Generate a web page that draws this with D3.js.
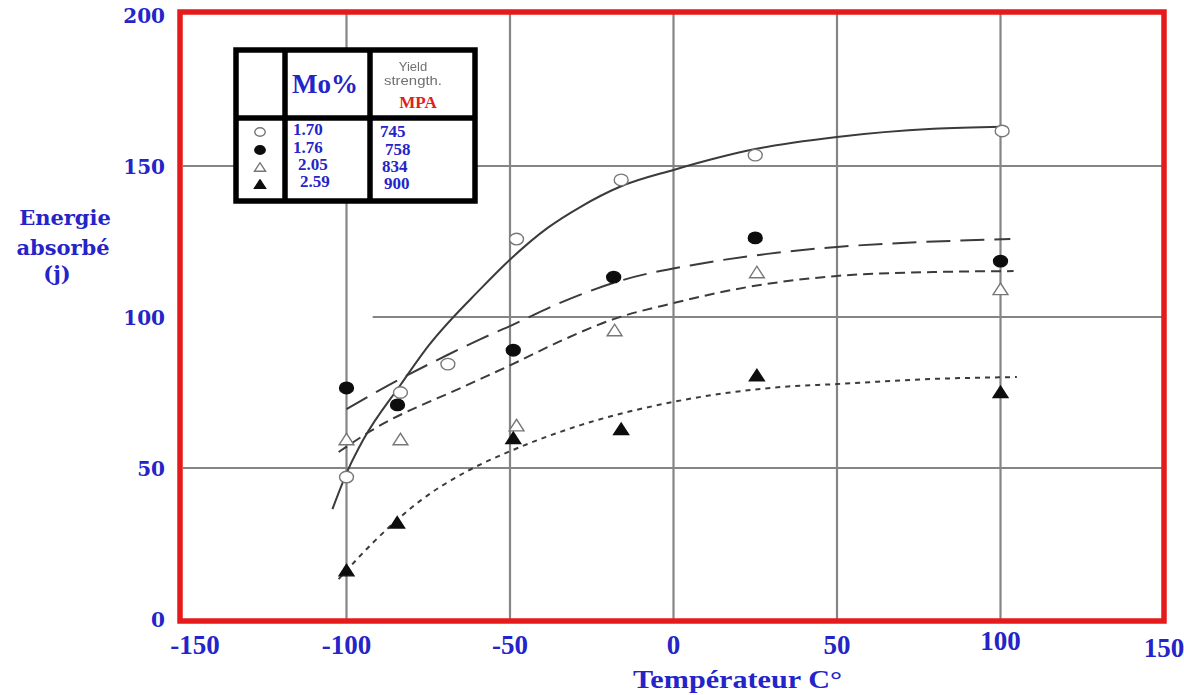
<!DOCTYPE html>
<html>
<head>
<meta charset="utf-8">
<script src="https://cdn.jsdelivr.net/npm/d3@7"></script>
<style>
  html, body { margin: 0; padding: 0; background: #ffffff; }
  svg { display: block; }
</style>
</head>
<body>
<svg id="chart" width="1184" height="695"></svg>
<script>
// Impact energy (Charpy) versus test temperature for four Mo contents
const xTicks = [-150, -100, -50, 0, 50, 100, 150];
const yTicks = [0, 50, 100, 150, 200];
const gridX = [-100, -50, 0, 50, 100];

const moPercent = ["1.70", "1.76", "2.05", "2.59"];
const yieldMPa = ["745", "758", "834", "900"];
const markerKinds = ["openCircle", "filledCircle", "openTriangle", "filledTriangle"];

// measured points [temperature °C, energy J]
const pts170 = [[-100, 47], [-83.5, 75], [-69, 84.4], [-48, 125.8], [-16, 145.4], [25, 153.6], [100.5, 161.6]];
const pts176 = [[-100, 76.5], [-84.4, 70.9], [-49, 89], [-18.3, 113.2], [25, 126.2], [100, 118.5]];
const pts205 = [[-100, 59.6], [-83.5, 59.6], [-48, 64.2], [-18, 95.7], [25.5, 114.9], [100, 109.3]];
const pts259 = [[-100, 16.2], [-84.5, 32], [-49, 60], [-16, 63], [25.5, 80.8], [100, 75.2]];

// fitted transition curves
const fit170 = [[-104.3, 36.4], [-99.4, 49.7], [-94.8, 59.5], [-83.5, 77.5], [-74.9, 90.5], [-59, 109.3], [-49.8, 119.2], [-38.5, 129.5], [-28.4, 136.5], [-16.2, 143.2], [0, 148.7], [25, 155.6], [50, 159.6], [79.5, 162.3], [100.5, 163]];
const fit176 = [[-100, 69.5], [-87.5, 77.2], [-69, 87.5], [-59, 92.7], [-49.2, 97.4], [-35.5, 104.3], [-15.3, 112.3], [7.3, 117.5], [28.7, 120.9], [50, 123.2], [75.5, 124.8], [103, 125.8]];
const fit205 = [[-102.4, 55.3], [-92.7, 62.2], [-63, 77.5], [-49.2, 84.4], [-33.6, 92.5], [-18.3, 99.3], [0, 104.6], [22.6, 109.9], [50, 113.6], [79.5, 114.9], [104, 115.2]];
const fit259 = [[-102.4, 13.2], [-91.7, 25.5], [-77.4, 39.2], [-63, 49], [-49, 56], [-28.4, 64.2], [0, 71.9], [32.7, 76.8], [50, 77.8], [79.5, 79.5], [105, 80.1]];

const series = [
  { pts: pts170, fit: fit170, kind: markerKinds[0], dash: null },
  { pts: pts176, fit: fit176, kind: markerKinds[1], dash: "24 10" },
  { pts: pts205, fit: fit205, kind: markerKinds[2], dash: "10 6" },
  { pts: pts259, fit: fit259, kind: markerKinds[3], dash: "5 5" }
];

const blue = "#2424c8";
const svg = d3.select("#chart");

const x = d3.scaleLinear().domain([-150, 150]).range([183, 1164]);
const y = d3.scaleLinear().domain([0, 200]).range([619, 15]);

const defs = svg.append("defs");
defs.append("filter").attr("id", "soft").attr("x", "-5%").attr("y", "-5%").attr("width", "110%").attr("height", "110%")
  .append("feGaussianBlur").attr("stdDeviation", 0.7);

const frame = { left: 180, top: 12, right: 1164, bottom: 621 };

// plot body (grid, curves, symbols)
const body = svg.append("g").attr("filter", "url(#soft)");

body.selectAll("line.vgrid").data(gridX).join("line")
  .attr("class", "vgrid")
  .attr("x1", d => x(d)).attr("x2", d => x(d))
  .attr("y1", frame.top).attr("y2", frame.bottom)
  .attr("stroke", "#858585").attr("stroke-width", 2.2);

const hgrid = [{ v: 50, from: -150 }, { v: 100, from: -92 }, { v: 150, from: -150 }];
body.selectAll("line.hgrid").data(hgrid).join("line")
  .attr("class", "hgrid")
  .attr("x1", d => Math.max(x(d.from), frame.left)).attr("x2", frame.right)
  .attr("y1", d => y(d.v)).attr("y2", d => y(d.v))
  .attr("stroke", "#858585").attr("stroke-width", 2.2);

const line = d3.line().x(d => x(d[0])).y(d => y(d[1])).curve(d3.curveMonotoneX);

body.selectAll("path.fit").data(series).join("path")
  .attr("class", "fit")
  .attr("d", d => line(d.fit))
  .attr("fill", "none")
  .attr("stroke", "#3a3a3a")
  .attr("stroke-width", 2)
  .attr("stroke-dasharray", d => d.dash);

function drawMarker(g, kind, size) {
  const filled = kind.startsWith("filled");
  const fill = filled ? "#111" : "#fff";
  const stroke = filled ? "#111" : "#777";
  if (kind.endsWith("Circle")) {
    g.append("ellipse").attr("rx", size * 0.58).attr("ry", size * 0.48)
      .attr("fill", fill).attr("stroke", stroke).attr("stroke-width", 1.4);
  } else {
    const w = size * 0.62, h = size * 0.48;
    g.append("path").attr("d", `M${-w},${h}L0,${-h}L${w},${h}Z`)
      .attr("fill", fill).attr("stroke", stroke).attr("stroke-width", 1.4);
  }
}

series.forEach(s => {
  s.pts.forEach(p => {
    const g = body.append("g").attr("transform", `translate(${x(p[0])},${y(p[1])})`);
    drawMarker(g, s.kind, 12);
  });
});

// red frame
svg.append("rect")
  .attr("x", frame.left).attr("y", frame.top)
  .attr("width", frame.right - frame.left).attr("height", frame.bottom - frame.top)
  .attr("fill", "none").attr("stroke", "#e61a1a").attr("stroke-width", 5.5);

// y tick labels
svg.selectAll("text.ytick").data(yTicks).join("text")
  .attr("class", "ytick")
  .attr("x", 165)
  .attr("y", d => y(d) + 8)
  .attr("text-anchor", "end")
  .attr("font-family", "'DejaVu Serif', serif")
  .attr("font-weight", "bold")
  .attr("font-size", 20)
  .attr("fill", blue)
  .text(d => d);

// x tick labels
svg.selectAll("text.xtick").data(xTicks).join("text")
  .attr("class", "xtick")
  .attr("x", d => x(d) + (d === -150 ? 12 : 0))
  .attr("y", d => d === 150 ? 657 : (d === 100 ? 650 : 654))
  .attr("text-anchor", "middle")
  .attr("font-family", "'Liberation Serif', 'Times New Roman', serif")
  .attr("font-weight", "bold")
  .attr("font-size", 27)
  .attr("fill", blue)
  .text(d => d);

// axis titles
svg.append("text")
  .attr("x", 633).attr("y", 688)
  .attr("textLength", 209).attr("lengthAdjust", "spacingAndGlyphs")
  .attr("font-family", "'Liberation Serif', 'Times New Roman', serif")
  .attr("font-weight", "bold").attr("font-size", 26)
  .attr("fill", blue)
  .text("Températeur C°");

const yTitle = ["Energie", "absorbé", "(j)"];
const yTitleBase = [225, 255, 281];
const yTitleX = [65, 63, 57];
svg.selectAll("text.ytitle").data(yTitle).join("text")
  .attr("class", "ytitle")
  .attr("x", (d, i) => yTitleX[i]).attr("y", (d, i) => yTitleBase[i])
  .attr("text-anchor", "middle")
  .attr("font-family", "'DejaVu Serif', serif")
  .attr("font-weight", "bold").attr("font-size", 21)
  .attr("fill", blue)
  .text(d => d);

// legend table
const leg = svg.append("g");
const L = { x0: 236, x1: 285, x2: 370, x3: 475, y0: 50, y1: 118, y2: 201 };
leg.append("rect").attr("x", L.x0).attr("y", L.y0).attr("width", L.x3 - L.x0).attr("height", L.y2 - L.y0)
  .attr("fill", "#fff").attr("stroke", "#000").attr("stroke-width", 5.5);
leg.append("line").attr("x1", L.x1).attr("x2", L.x1).attr("y1", L.y0).attr("y2", L.y2).attr("stroke", "#000").attr("stroke-width", 5.5);
leg.append("line").attr("x1", L.x2).attr("x2", L.x2).attr("y1", L.y0).attr("y2", L.y2).attr("stroke", "#000").attr("stroke-width", 5.5);
leg.append("line").attr("x1", L.x0).attr("x2", L.x3).attr("y1", L.y1).attr("y2", L.y1).attr("stroke", "#000").attr("stroke-width", 5.5);

leg.append("text").attr("x", 292).attr("y", 93)
  .attr("font-family", "'Liberation Serif', 'Times New Roman', serif")
  .attr("font-weight", "bold").attr("font-size", 27).attr("fill", blue)
  .text("Mo%");

const yieldHead = leg.append("g").attr("filter", "url(#soft)");
yieldHead.append("text").attr("x", 413).attr("y", 71).attr("text-anchor", "middle")
  .attr("font-family", "'Liberation Sans', Arial, sans-serif").attr("font-size", 13).attr("fill", "#707070")
  .text("Yield");
yieldHead.append("text").attr("x", 413).attr("y", 85).attr("text-anchor", "middle")
  .attr("font-family", "'Liberation Sans', Arial, sans-serif").attr("font-size", 13).attr("fill", "#707070")
  .attr("textLength", 58).attr("lengthAdjust", "spacingAndGlyphs")
  .text("strength.");
leg.append("text").attr("x", 418).attr("y", 108).attr("text-anchor", "middle")
  .attr("font-family", "'Liberation Serif', 'Times New Roman', serif")
  .attr("font-weight", "bold").attr("font-size", 17).attr("fill", "#e02020")
  .text("MPA");

const rowY = [132, 150, 167, 184];
const moX = [293, 293, 298, 300];
const mpaX = [380, 385, 382, 384];
markerKinds.forEach((k, i) => {
  const g = leg.append("g").attr("transform", `translate(260,${rowY[i]})`).attr("filter", "url(#soft)");
  drawMarker(g, k, 9);
});
leg.selectAll("text.mo").data(moPercent).join("text")
  .attr("class", "mo")
  .attr("x", (d, i) => moX[i]).attr("y", (d, i) => rowY[i] + 3)
  .attr("font-family", "'Liberation Serif', 'Times New Roman', serif")
  .attr("font-weight", "bold").attr("font-size", 17).attr("fill", blue)
  .text(d => d);
leg.selectAll("text.mpa").data(yieldMPa).join("text")
  .attr("class", "mpa")
  .attr("x", (d, i) => mpaX[i]).attr("y", (d, i) => rowY[i] + 5)
  .attr("font-family", "'Liberation Serif', 'Times New Roman', serif")
  .attr("font-weight", "bold").attr("font-size", 17).attr("fill", blue)
  .text(d => d);
</script>
</body>
</html>
